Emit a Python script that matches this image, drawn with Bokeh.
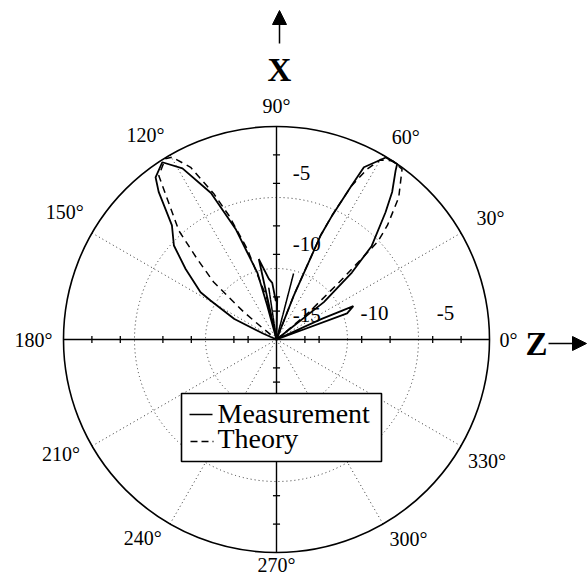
import numpy as np
from bokeh.plotting import figure
from bokeh.models import Range1d, Arrow, NormalHead
from bokeh.core.properties import value
from bokeh.embed import file_html
from bokeh.resources import INLINE

# ---------------- data ----------------
DB_MIN = -15.0          # centre of the plot
ring_db = [-10, -5]     # dotted rings (outer circle = 0 dB)
spoke_angles = [30, 60, 120, 150, 210, 240, 300, 330]
angle_ticks = [0, 30, 60, 90, 120, 150, 180, 210, 240, 270, 300, 330]
angle_tick_labels = ["0°", "30°", "60°", "90°", "120°", "150°", "180°",
                     "210°", "240°", "270°", "300°", "330°"]
axis_tick_db = [-13, -12, -9, -7, -4, -2]
vert_label_db = [-5, -10, -15]
vert_labels = ["-5", "-10", "-15"]
horiz_label_db = [-10, -5]
horiz_labels = ["-10", "-5"]
legend_labels = ["Measurement", "Theory"]

meas_theta = [0, 17, 19.5, 20.3, 23.5, 24.5, 26, 35, 38.3, 41.6, 44.5, 49.4,
              51.9, 54.8, 55.5, 59, 63.1, 64.1, 65.8, 67, 68.5, 70, 86, 89,
              91, 94.3, 97.2, 102.4, 103.5, 104.5, 105.3, 106, 108.6, 110.3,
              114.1, 118.8, 122.8, 126.7, 128.6, 132.5, 137.5, 142.2, 148.1,
              149.4, 154, 156, 157, 180]
meas_db = [-15, -15, -15, -9.7, -9.1, -11.5, -15, -15, -10.75, -7.9, -5.6,
           -3.2, -1.8, -0.45, 0, -0.05, -1.4, -3.1, -5.4, -7.0, -11.7, -15,
           -15, -12, -12.3, -11.0, -10.7, -9.2, -15, -15, -12.5, -10.1, -8.5,
           -6.7, -3.7, -1.25, -0.15, -0.75, -1.7, -4.1, -5.2, -6.9, -8.7,
           -9.6, -11.7, -14.0, -15, -15]

theory_theta = [0, 38.5, 39.5, 40, 42.4, 44, 45.8, 49.3, 53.6, 57, 60, 62, 64,
                65.8, 67, 68.5, 69.5, 73.5, 75.5, 77.5, 96.5, 98.5, 100.5,
                101, 102.9, 107.9, 111, 113.3, 116.5, 119.8, 121.6, 125.7,
                131.9, 134.5, 137.6, 140, 140.5, 141, 180]
theory_db = [-15, -15, -13.8, -12, -9.0, -5.1, -3.8, -1.8, -0.1, 0, -0.4,
             -1.4, -3.0, -5.3, -7.0, -11.5, -15, -15, -10.2, -15, -15, -11.3,
             -15, -15, -12.1, -8.3, -5.65, -3.8, -1.45, -0.2, -0.05, -0.8,
             -4.7, -7.0, -9.0, -12.0, -13.8, -15, -15]

# ---------------- layout ----------------
S = 14.2                 # pixels per dB
W, H = 588, 577
CX, CY = 276, 339        # centre of polar plot in figure pixels
R = -DB_MIN              # outer radius in data units
FONT = value("Liberation Serif")
# where each angle label sits: distance (px) and direction (deg) from the centre
label_dist_px = [232, 246, 240, 234, 243, 247, 243, 244, 239, 225, 239, 243]
label_dir_deg = [0, 29.5, 57.4, 90, 122.6, 149, 180, 208, 236, 270, 303.5, 330]


def to_xy(theta, db):
    r = np.clip(np.asarray(db, dtype=float) - DB_MIN, 0, None)
    t = np.radians(np.asarray(theta, dtype=float))
    return r * np.cos(t), r * np.sin(t)


p = figure(width=W, height=H, output_backend="svg", toolbar_location=None,
           x_range=Range1d(-CX / S, (W - CX) / S),
           y_range=Range1d(-(H - CY) / S, CY / S),
           min_border=0, outline_line_color=None,
           x_axis_location=None, y_axis_location=None)
p.grid.visible = False
p.background_fill_color = "white"

# dotted rings
ring_r = [d - DB_MIN for d in ring_db]
p.circle(x=[0] * len(ring_r), y=[0] * len(ring_r), radius=ring_r,
         fill_alpha=0, line_color="#333333", line_width=1, line_dash="1 3")
# dotted spokes
sa = np.radians(spoke_angles)
p.segment(x0=[0] * len(sa), y0=[0] * len(sa), x1=R * np.cos(sa), y1=R * np.sin(sa),
          line_color="#333333", line_width=1, line_dash="1 3")
# outer circle
p.circle(x=[0], y=[0], radius=[R], fill_alpha=0, line_color="black", line_width=1.6)
# main axes
p.segment(x0=[-R, 0], y0=[0, -R], x1=[R, 0], y1=[0, R], line_color="black", line_width=1.4)
# axis ticks
tr = np.array([d - DB_MIN for d in axis_tick_db])
tl = 0.25
tx0, ty0, tx1, ty1 = [], [], [], []
for r in tr:
    for sgn in (1, -1):
        tx0 += [sgn * r, -tl]; ty0 += [-tl, sgn * r]
        tx1 += [sgn * r, tl]; ty1 += [tl, sgn * r]
p.segment(x0=tx0, y0=ty0, x1=tx1, y1=ty1, line_color="black", line_width=1.3)

# data
mx, my = to_xy(meas_theta, meas_db)
p.line(mx, my, line_color="black", line_width=1.8)
tx, ty = to_xy(theory_theta, theory_db)
p.line(tx, ty, line_color="black", line_width=1.5, line_dash="7 5")

# legend box
lb_l, lb_r, lb_t, lb_b = -95 / S, 105 / S, -54 / S, -122 / S
p.quad(left=[lb_l], right=[lb_r], top=[lb_t], bottom=[lb_b],
       fill_color="white", line_color="black", line_width=1.6)
p.line([-87 / S, -64 / S], [-75 / S, -75 / S], line_color="black", line_width=1.6)
p.line([-86 / S, -63 / S], [-102 / S, -102 / S], line_color="black", line_width=1.6,
       line_dash="7 4")
p.text(x=[-59 / S, -59 / S], y=[-74 / S, -99 / S], text=legend_labels,
       text_font=FONT, text_font_size="28px", text_baseline="middle",
       text_align="left", text_color="black")

# angle labels
aa = np.radians(label_dir_deg)
ld = np.array(label_dist_px) / S
p.text(x=ld * np.cos(aa), y=ld * np.sin(aa), text=angle_tick_labels,
       text_font=FONT, text_font_size="20px", text_align="center",
       text_baseline="middle", text_color="black")

# radial labels
p.text(x=[1.15] * len(vert_label_db), y=[d - DB_MIN + 1.75 for d in vert_label_db],
       text=vert_labels, text_font=FONT, text_font_size="21px", text_align="left",
       text_baseline="middle", text_color="black")
p.text(x=[d - DB_MIN + 1.9 for d in horiz_label_db], y=[1.9] * len(horiz_label_db),
       text=horiz_labels, text_font=FONT, text_font_size="21px", text_align="center",
       text_baseline="middle", text_color="black")

# axis names with arrows
p.text(x=[3 / S], y=[270 / S], text=["X"], text_font=FONT, text_font_size="33px",
       text_font_style="bold", text_align="center", text_baseline="middle")
p.text(x=[260 / S], y=[-4 / S], text=["Z"], text_font=FONT, text_font_size="33px",
       text_font_style="bold", text_align="center", text_baseline="middle")
p.add_layout(Arrow(end=NormalHead(size=14, fill_color="black", line_color="black"),
                   x_start=3 / S, y_start=296 / S, x_end=3 / S, y_end=329 / S,
                   line_color="black", line_width=1.5))
p.add_layout(Arrow(end=NormalHead(size=14, fill_color="black", line_color="black"),
                   x_start=272 / S, y_start=-4 / S, x_end=310 / S, y_end=-4 / S,
                   line_color="black", line_width=1.5))

open("out.html", "w").write(file_html(p, INLINE))
